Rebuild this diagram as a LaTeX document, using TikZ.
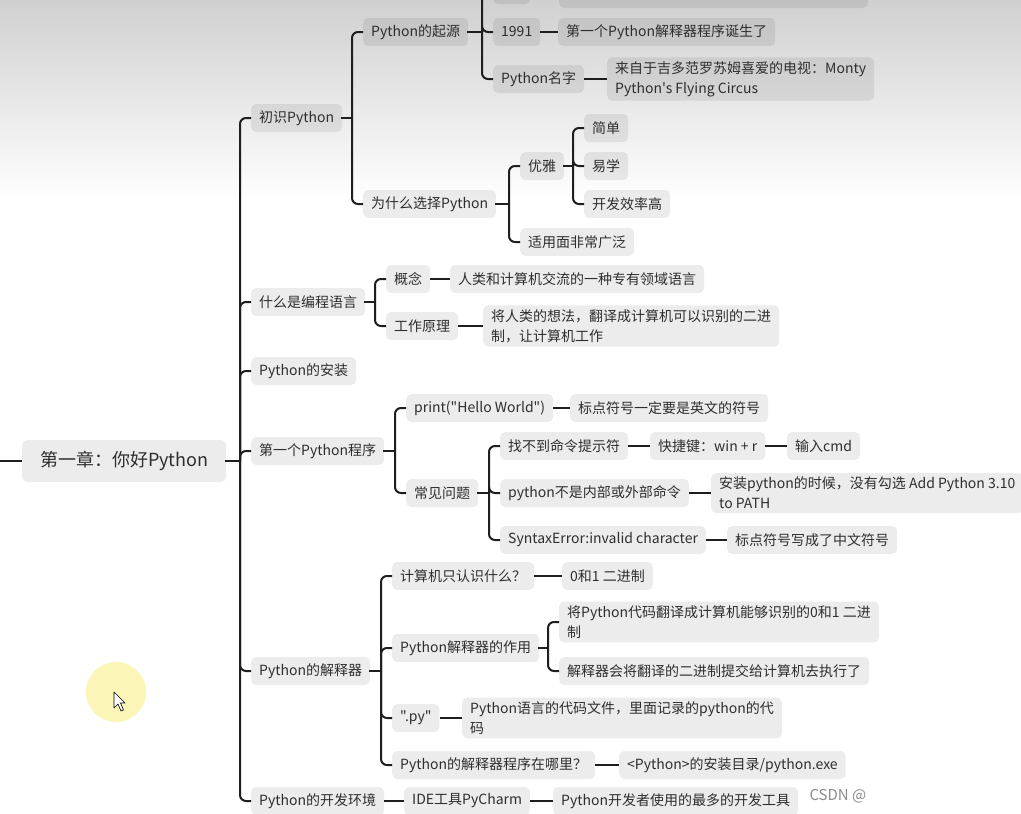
\documentclass[tikz,border=0pt]{standalone}
\usepackage{fontspec}
\setmainfont{Noto Sans CJK SC}[Ligatures=TeXOff]
\definecolor{txt}{HTML}{2E2E2E}
\definecolor{ln}{HTML}{1E1E1E}
\definecolor{topgray}{HTML}{D0D0D0}
\definecolor{cursorglow}{HTML}{FBF6B8}
\newcommand\mmedge[2]{%
  \draw[conn,rounded corners=0pt,line cap=rect] (#1.east) -- ([xshift=-11pt]#2.west |- #1.east);
  \draw[conn] ([xshift=-11pt]#2.west |- #1.east) |- (#2.west);}
\newcommand\mmlink[2]{\draw[conn] (#1.east) -- (#2.west);}
\begin{document}
\begin{tikzpicture}[x=1pt,y=-1pt,
  box/.style={fill=black,fill opacity=0.075,text opacity=1,text=txt,rounded corners=5pt,
    minimum height=28pt,inner xsep=8pt,inner ysep=4pt,anchor=west,
    font=\fontsize{14}{20}\selectfont,align=left},
  conn/.style={draw=ln,line width=2pt,rounded corners=6pt}]
\useasboundingbox (0,0) rectangle (1021,814);
\fill[white] (0,0) rectangle (1021,814);
\shade[top color=topgray,bottom color=white] (0,0) rectangle (1021,200);

% cursor highlight
\fill[cursorglow] (116,692) circle (30);
\draw[fill=white,line width=0.6pt,line join=round] (114,692) -- (114,708) -- (118,704) -- (121,711) -- (123.5,710) -- (120.5,703) -- (125,703) -- cycle;

% root
\node[box,minimum height=42pt,minimum width=204pt,font=\fontsize{18}{22}\selectfont,inner xsep=15pt] (root) at (22,461) {第一章：你好Python};
\coordinate (lft) at (0,461);
\draw[conn] (lft) -- (root.west);

% level 1
\node[box] (a1) at (251,118) {初识Python};
\node[box] (a2) at (251,302) {什么是编程语言};
\node[box] (a3) at (251,371) {Python的安装};
\node[box] (a4) at (251,451) {第一个Python程序};
\node[box] (a5) at (251,671) {Python的解释器};
\node[box] (a6) at (251,801) {Python的开发环境};
\foreach \c in {a1,a2,a3,a4,a5,a6}{\mmedge{root}{\c}}

% 初识Python
\node[box] (b1) at (363,32) {Python的起源};
\node[box] (b2) at (363,204) {为什么选择Python};
\mmedge{a1}{b1}\mmedge{a1}{b2}

\node[box,minimum width=37pt] (c0) at (493,-10) {};
\node[box] (c1) at (493,32) {1991};
\node[box] (c2) at (493,79) {Python名字};
\mmedge{b1}{c0}\mmedge{b1}{c1}\mmedge{b1}{c2}
\node[box,minimum width=309pt,minimum height=40pt] (c0t) at (559,-12) {};
\node[box] (c1t) at (558,32) {第一个Python解释器程序诞生了};
\node[box] (c2t) at (607,79) {来自于吉多范罗苏姆喜爱的电视：Monty\\Python's Flying Circus};
\mmlink{c0}{c0t}\mmlink{c1}{c1t}\mmlink{c2}{c2t}

\node[box] (d1) at (520,166) {优雅};
\node[box] (d2) at (520,242) {适用面非常广泛};
\mmedge{b2}{d1}\mmedge{b2}{d2}
\node[box] (e1) at (584,128) {简单};
\node[box] (e2) at (584,166) {易学};
\node[box] (e3) at (584,204) {开发效率高};
\mmedge{d1}{e1}\mmedge{d1}{e2}\mmedge{d1}{e3}

% 什么是编程语言
\node[box] (f1) at (386,279) {概念};
\node[box] (f2) at (386,326) {工作原理};
\mmedge{a2}{f1}\mmedge{a2}{f2}
\node[box] (f1t) at (450,279) {人类和计算机交流的一种专有领域语言};
\node[box] (f2t) at (483,326) {将人类的想法，翻译成计算机可以识别的二进\\制，让计算机工作};
\mmlink{f1}{f1t}\mmlink{f2}{f2t}

% 第一个Python程序
\node[box] (g1) at (406,408) {print("Hello World")};
\node[box] (g2) at (406,493) {常见问题};
\mmedge{a4}{g1}\mmedge{a4}{g2}
\node[box] (g1t) at (570,408) {标点符号一定要是英文的符号};
\mmlink{g1}{g1t}
\node[box] (h1) at (500,446) {找不到命令提示符};
\node[box] (h2) at (500,493) {python不是内部或外部命令};
\node[box] (h3) at (500,540) {SyntaxError:invalid character};
\mmedge{g2}{h1}\mmedge{g2}{h2}\mmedge{g2}{h3}
\node[box] (h1a) at (650,446) {快捷键：win + r};
\node[box] (h1b) at (787,446) {输入cmd};
\node[box] (h2t) at (711,493) {安装python的时候，没有勾选 Add Python 3.10\\to PATH};
\node[box] (h3t) at (727,540) {标点符号写成了中文符号};
\mmlink{h1}{h1a}\mmlink{h1a}{h1b}\mmlink{h2}{h2t}\mmlink{h3}{h3t}

% Python的解释器
\node[box] (i1) at (392,576) {计算机只认识什么？};
\node[box] (i2) at (392,648) {Python解释器的作用};
\node[box] (i3) at (392,718) {".py"};
\node[box] (i4) at (392,765) {Python的解释器程序在哪里？};
\mmedge{a5}{i1}\mmedge{a5}{i2}\mmedge{a5}{i3}\mmedge{a5}{i4}
\node[box] (i1t) at (562,576) {0和1 二进制};
\node[box] (j1) at (559,622) {将Python代码翻译成计算机能够识别的0和1 二进\\制};
\node[box] (j2) at (559,671) {解释器会将翻译的二进制提交给计算机去执行了};
\node[box] (i3t) at (462,718) {Python语言的代码文件，里面记录的python的代\\码};
\node[box] (i4t) at (619,765) {<Python>的安装目录/python.exe};
\mmlink{i1}{i1t}\mmedge{i2}{j1}\mmedge{i2}{j2}\mmlink{i3}{i3t}\mmlink{i4}{i4t}

% Python的开发环境
\node[box] (k1) at (404,801) {IDE工具PyCharm};
\node[box] (k2) at (553,801) {Python开发者使用的最多的开发工具};
\mmlink{a6}{k1}\mmlink{k1}{k2}

% watermark
\node[anchor=west,text=black!45,font=\fontsize{15}{18}\selectfont] (wm) at (806,796) {CSDN @};
\end{tikzpicture}
\end{document}
